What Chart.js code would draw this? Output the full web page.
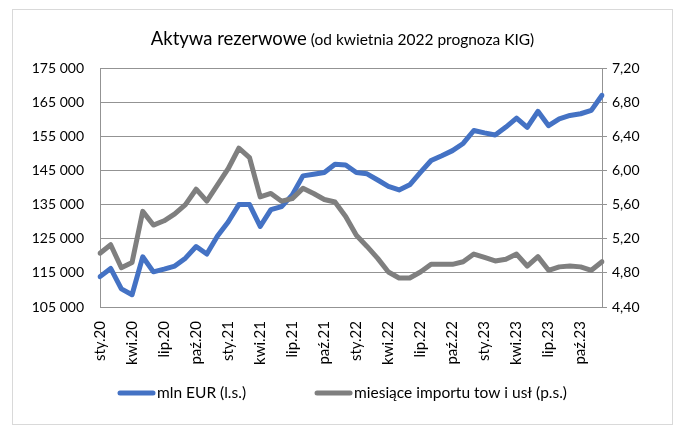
<!DOCTYPE html>
<html lang="pl">
<head>
<meta charset="utf-8">
<title>Aktywa rezerwowe</title>
<script src="https://cdn.jsdelivr.net/npm/chart.js@4.4.0/dist/chart.umd.min.js"></script>
<style>
  html, body { margin: 0; padding: 0; background: #fff; }
  #wrap { position: relative; width: 685px; height: 435px; }
</style>
</head>
<body>
<div id="wrap"><canvas id="reserves-chart"></canvas></div>
<script>
// Miesiące (sty.20 - gru.23)
const monthNames = ['sty', 'lut', 'mar', 'kwi', 'maj', 'cze', 'lip', 'sie', 'wrz', 'paź', 'lis', 'gru'];
const years = ['20', '21', '22', '23'];
const months = years.flatMap(y => monthNames.map(m => m + '.' + y));

// Aktywa rezerwowe, mln EUR (lewa oś)
const reserveEur = [
    113900, 116300, 110300, 108600, 119700, 115300, 116100, 117000, 119300, 122700, 120500, 125800,
    129900, 135000, 135000, 128600, 133500, 134400, 137800, 143400, 143900, 144400, 146800, 146600,
    144400, 144000, 142200, 140300, 139300, 140800, 144400, 147900, 149300, 150800, 152900, 156700,
    156000, 155400, 157700, 160300, 157600, 162300, 158100, 160100, 161100, 161600, 162600, 167000
];

// Miesiące importu towarów i usług (prawa oś)
const importMonths = [
    5.03, 5.13, 4.86, 4.92, 5.52, 5.36, 5.41, 5.49, 5.60, 5.78, 5.64, 5.83,
    6.02, 6.26, 6.15, 5.69, 5.73, 5.64, 5.67, 5.79, 5.73, 5.66, 5.63, 5.46,
    5.24, 5.11, 4.97, 4.81, 4.74, 4.74, 4.81, 4.90, 4.90, 4.90, 4.93, 5.02,
    4.98, 4.94, 4.96, 5.02, 4.88, 4.99, 4.83, 4.87, 4.88, 4.87, 4.83, 4.93
];

const leftTicks = { min: 105000, max: 175000, step: 10000 };
const rightTicks = { min: 4.4, max: 7.2, step: 0.4 };

const titleMain = 'Aktywa rezerwowe';
const titleSub = ' (od kwietnia 2022 prognoza KIG)';
const seriesLabels = ['mln EUR (l.s.)', 'miesiące importu tow i usł (p.s.)'];

const FONT = 'Lato, "Open Sans", sans-serif';
const TEXT_COLOR = '#000000';
const GRID_COLOR = '#939393';
const BLUE = '#4472C4';
const GRAY = '#7F7F7F';

/**
 * Ramka wykresu, tytuł i legenda
 */
const chartDecorations = {
    id: 'chartDecorations',
    beforeDraw(chart) {
        const ctx = chart.ctx;
        ctx.save();
        ctx.fillStyle = '#ffffff';
        ctx.fillRect(0, 0, chart.width, chart.height);
        ctx.strokeStyle = '#d9d9d9';
        ctx.lineWidth = 1;
        ctx.strokeRect(12.5, 9.5, chart.width - 25, chart.height - 20);
        ctx.restore();
    },
    afterDraw(chart) {
        const ctx = chart.ctx;
        ctx.save();

        // Tytuł: dwie części różnej wielkości
        ctx.fillStyle = TEXT_COLOR;
        ctx.textBaseline = 'alphabetic';
        ctx.font = '18.5px ' + FONT;
        const w1 = ctx.measureText(titleMain).width;
        ctx.font = '15.5px ' + FONT;
        const w2 = ctx.measureText(titleSub).width;
        let x = (chart.width - w1 - w2) / 2;
        const titleY = 45;
        ctx.font = '18.5px ' + FONT;
        ctx.fillText(titleMain, x, titleY);
        ctx.font = '15.5px ' + FONT;
        ctx.fillText(titleSub, x + w1, titleY);

        // Legenda
        const lineLen = 37;
        const gap = 2;
        const itemGap = 69;
        const legendY = 393;
        ctx.font = '15.5px ' + FONT;
        ctx.textBaseline = 'middle';
        const items = chart.data.datasets.map(ds => ({
            text: ds.label,
            color: ds.borderColor,
            width: lineLen + gap + ctx.measureText(ds.label).width
        }));
        const total = items.reduce((s, it) => s + it.width, 0) + itemGap * (items.length - 1);
        x = (chart.width - total) / 2;
        items.forEach(it => {
            ctx.strokeStyle = it.color;
            ctx.lineWidth = 5;
            ctx.lineCap = 'round';
            ctx.beginPath();
            ctx.moveTo(x + 2, legendY);
            ctx.lineTo(x + lineLen - 2, legendY);
            ctx.stroke();
            ctx.fillStyle = TEXT_COLOR;
            ctx.fillText(it.text, x + lineLen + gap, legendY);
            x += it.width + itemGap;
        });

        ctx.restore();
    }
};

function formatThousands(value) {
    return Math.round(value).toString().replace(/\B(?=(\d{3})+(?!\d))/g, ' ');
}

const ctx = document.getElementById('reserves-chart');

new Chart(ctx, {
    type: 'line',
    data: {
        labels: months,
        datasets: [{
            label: seriesLabels[0],
            data: reserveEur,
            yAxisID: 'y',
            borderColor: BLUE,
            backgroundColor: BLUE,
            borderWidth: 5,
            borderJoinStyle: 'round',
            borderCapStyle: 'round',
            pointRadius: 0,
            tension: 0,
            order: 1
        }, {
            label: seriesLabels[1],
            data: importMonths,
            yAxisID: 'y1',
            borderColor: GRAY,
            backgroundColor: GRAY,
            borderWidth: 5,
            borderJoinStyle: 'round',
            borderCapStyle: 'round',
            pointRadius: 0,
            tension: 0,
            order: 0
        }]
    },
    options: {
        responsive: true,
        maintainAspectRatio: false,
        devicePixelRatio: 1,
        animation: false,
        layout: {
            padding: { top: 68, left: 0, right: 0, bottom: 68 }
        },
        plugins: {
            legend: { display: false },
            title: { display: false },
            tooltip: { enabled: false }
        },
        scales: {
            x: {
                type: 'category',
                offset: false,
                grid: { display: false },
                border: { display: true, color: GRID_COLOR },
                ticks: {
                    autoSkip: false,
                    maxRotation: 90,
                    minRotation: 90,
                    padding: 6,
                    color: TEXT_COLOR,
                    font: { family: FONT, size: 15 },
                    callback: function(value, index) {
                        return index % 3 === 0 ? months[index] : '';
                    }
                },
                afterFit: function(scale) {
                    scale.height = 60;
                }
            },
            y: {
                position: 'left',
                min: leftTicks.min,
                max: leftTicks.max,
                grid: { color: GRID_COLOR, lineWidth: 1, drawTicks: false },
                border: { display: true, color: GRID_COLOR },
                ticks: {
                    stepSize: leftTicks.step,
                    padding: 16,
                    color: TEXT_COLOR,
                    font: { family: FONT, size: 14 },
                    callback: function(value) {
                        return formatThousands(value);
                    }
                },
                afterFit: function(scale) {
                    scale.width = 100;
                }
            },
            y1: {
                position: 'right',
                min: rightTicks.min,
                max: rightTicks.max,
                grid: {
                    drawOnChartArea: false,
                    drawTicks: true,
                    tickLength: 5,
                    color: GRID_COLOR
                },
                border: { display: true, color: GRID_COLOR },
                ticks: {
                    stepSize: rightTicks.step,
                    padding: 5,
                    color: TEXT_COLOR,
                    font: { family: FONT, size: 14 },
                    callback: function(value) {
                        return value.toFixed(2).replace('.', ',');
                    }
                },
                afterFit: function(scale) {
                    scale.width = 83;
                }
            }
        }
    },
    plugins: [chartDecorations]
});
</script>
</body>
</html>
